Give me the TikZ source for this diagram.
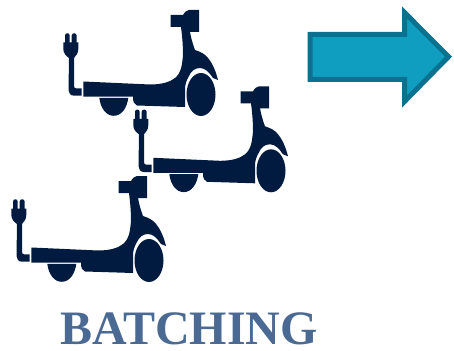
\documentclass[tikz,border=0pt]{standalone}
\usepackage{fontspec}
\setmainfont{Liberation Serif}
\definecolor{navy}{HTML}{001B3F}
\definecolor{arrowfill}{HTML}{0F9EC0}
\definecolor{arrowline}{HTML}{0A7290}
\definecolor{titleblue}{HTML}{4A6A94}
\tikzset{
  ink/.style={fill=navy,draw=none},
  scooter/.pic={
    % body
    \path[ink] (170.5,15) -- (183,15) .. controls (185,12) and (186,10.5) .. (189,10) -- (199,10) -- (199,32) -- (190,32)
      .. controls (191,37) and (192,42) .. (195,50)
      .. controls (201,52) and (205,54) .. (208,58)
      .. controls (213,64) and (216,72) .. (218,80)
      -- (213,78)
      .. controls (209,72) and (205,68) .. (200,68)
      .. controls (195,68) and (191,71) .. (189,76)
      .. controls (186,81) and (185,85) .. (185,90)
      -- (185,107) -- (137,105.5) .. controls (134,104.5) and (133,102) .. (133,96.5)
      -- (83.3,96.5) -- (83.3,81.5)
      -- (150,84.5) .. controls (162,84.5) and (170,82) .. (175,78)
      .. controls (181,73) and (182,66) .. (183,55)
      .. controls (183,44) and (182,35) .. (181,27)
      -- (170.5,27) -- cycle;
    % front wheel
    \path[ink] (201,94.5) ellipse [x radius=14.5, y radius=21.5];
    % rear wheel
    \path[ink] (99.3,97.8) .. controls (100.5,108) and (106,115.8) .. (113.8,115.8)
      .. controls (121.5,115.8) and (127,108) .. (128.3,97.8) -- cycle;
    % plug
    \path[ink] (65,42.5) -- (65,35.5) .. controls (65,32.5) and (69.7,32.5) .. (69.7,35.5) -- (69.7,42.5)
      -- (71.7,42.5) -- (71.7,35.5) .. controls (71.7,32.5) and (76.7,32.5) .. (76.7,35.5) -- (76.7,42.5)
      -- (78.3,42.5) -- (78.3,49)
      .. controls (78.3,53) and (76,56) .. (74,58)
      -- (74,86) .. controls (74,87.5) and (75,88.3) .. (76,88.3) -- (81.7,88.3) -- (81.7,95.7) -- (74,95.7)
      .. controls (70.5,95.7) and (68.5,93) .. (68.5,90) -- (69,58)
      .. controls (66,56) and (63.3,53) .. (63.3,49) -- (63.3,42.5) -- cycle;
  }
}
\begin{document}
\begin{tikzpicture}[x=1pt,y=-1pt]
  \useasboundingbox (0,0) rectangle (454,350);
  \pic at (0,0) {scooter};
  \pic at (70,76.3) {scooter};
  \pic at (-52,166) {scooter};
  \path[fill=arrowfill,draw=arrowline,line width=5pt,miter limit=10]
    (310,34.5) -- (404.5,34.5) -- (404.5,12.5) -- (448.5,56.7) -- (404.5,101.5) -- (404.5,79.5) -- (310,79.5) -- cycle;
  \node[font=\fontsize{48}{48}\selectfont\bfseries,text=titleblue,inner sep=0pt,anchor=base] (title) at (189,344) {BATCHING};
\end{tikzpicture}
\end{document}
